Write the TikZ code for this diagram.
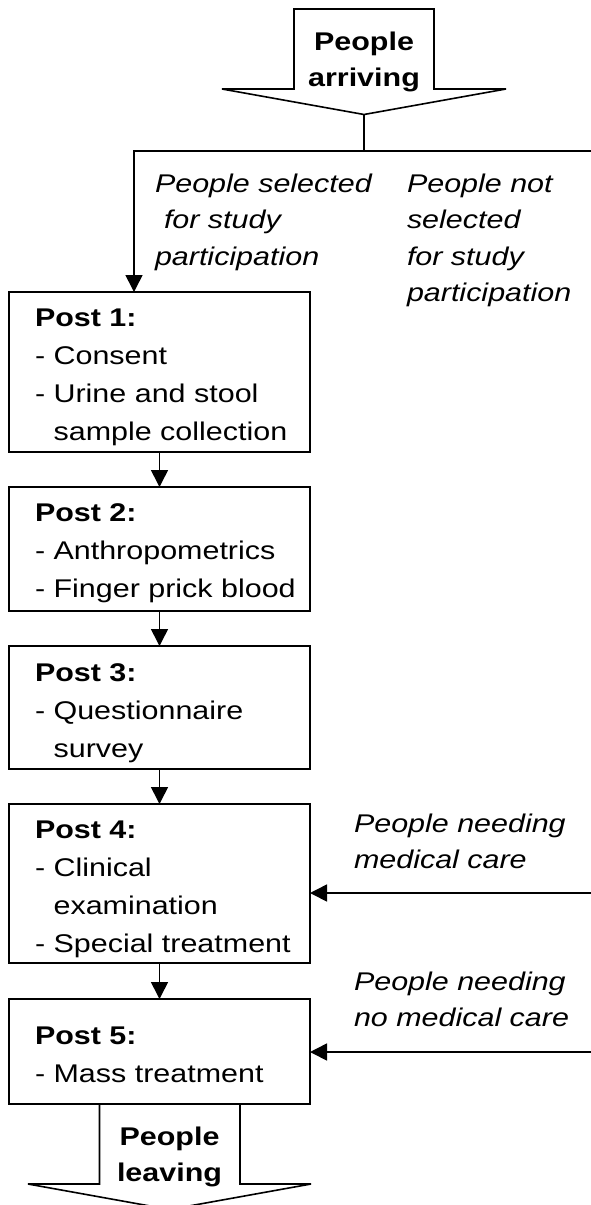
\documentclass[tikz,border=0pt]{standalone}
\usepackage{fontspec}
\setmainfont{Liberation Sans}[FakeStretch=1.19]
\usetikzlibrary{arrows.meta}
\newcommand\topstrut{\rule{0pt}{20pt}}
\begin{document}
\begin{tikzpicture}[x=1pt,y=-1pt,
  every node/.style={inner sep=0pt, outer sep=0pt},
  line/.style={line width=1.6pt, line join=miter},
  arr/.style={line, -{Triangle[length=17pt,width=17pt]}},
  post/.style={draw, line width=1.6pt, minimum width=301pt},
  boxtxt/.style={anchor=north west, align=left, font=\fontsize{25.6pt}{38pt}\selectfont},
  lbl/.style={anchor=north west, align=left, font=\fontsize{25.6pt}{36.5pt}\selectfont\itshape},
  bigtxt/.style={anchor=north, align=center, font=\fontsize{25.6pt}{36pt}\selectfont\bfseries}]
\useasboundingbox (0,0) rectangle (591,1205);

% incoming arrow
\draw[line] (294,9) -- (434,9) -- (434,89) -- (506,89) -- (364,114.5) -- (222,89) -- (294,89) -- cycle;
\node[bigtxt] (arrive) at (364,30) {\topstrut People\\arriving};
\coordinate (intip) at (364,114.5);
\coordinate (split) at (364,151);
\coordinate (selx) at (134,151);
\coordinate (notsel) at (591,151);

% posts
\node[post, minimum height=160pt] (p1) at (159.5,372) {};
\node[post, minimum height=124pt] (p2) at (159.5,549) {};
\node[post, minimum height=123pt] (p3) at (159.5,707.5) {};
\node[post, minimum height=159pt] (p4) at (159.5,883.5) {};
\node[post, minimum height=105pt] (p5) at (159.5,1051.5) {};

\node[boxtxt] (t1) at (35,306) {\topstrut\textbf{Post 1:}\\- Consent\\- Urine and stool\\\phantom{- }sample collection};
\node[boxtxt] (t2) at (35,501) {\topstrut\textbf{Post 2:}\\- Anthropometrics\\- Finger prick blood};
\node[boxtxt] (t3) at (35,661) {\topstrut\textbf{Post 3:}\\- Questionnaire\\\phantom{- }survey};
\node[boxtxt] (t4) at (35,818) {\topstrut\textbf{Post 4:}\\- Clinical\\\phantom{- }examination\\- Special treatment};
\node[boxtxt] (t5) at (35,1024) {\topstrut\textbf{Post 5:}\\- Mass treatment};

% labels
\node[lbl] (sel) at (155,172) {\topstrut People selected\\\hspace*{9pt}for study\\participation};
\node[lbl] (nsel) at (407,172) {\topstrut People not\\selected\\for study\\participation};
\node[lbl] (need) at (354,812) {\topstrut People needing\\medical care};
\node[lbl] (noneed) at (354,970) {\topstrut People needing\\no medical care};

% connectors
\draw[line] (intip) -- (split);
\draw[arr] (notsel) -- (selx) -- (selx |- p1.north);
\draw[arr] (p1) -- (p2);
\draw[arr] (p2) -- (p3);
\draw[arr] (p3) -- (p4);
\draw[arr] (p4) -- (p5);
\coordinate (r4) at (591,893);
\coordinate (r5) at (591,1052);
\draw[arr] (r4) -- (r4 -| p4.east);
\draw[arr] (r5) -- (r5 -| p5.east);

% outgoing arrow
\draw[line] (p5.south -| 99.5,0) -- (99.5,1184) -- (28,1184) -- (169.5,1209.5) -- (311,1184) -- (240,1184) -- (p5.south -| 240,0);
\node[bigtxt] (leave) at (169.5,1125) {\topstrut People\\leaving};
\end{tikzpicture}
\end{document}
